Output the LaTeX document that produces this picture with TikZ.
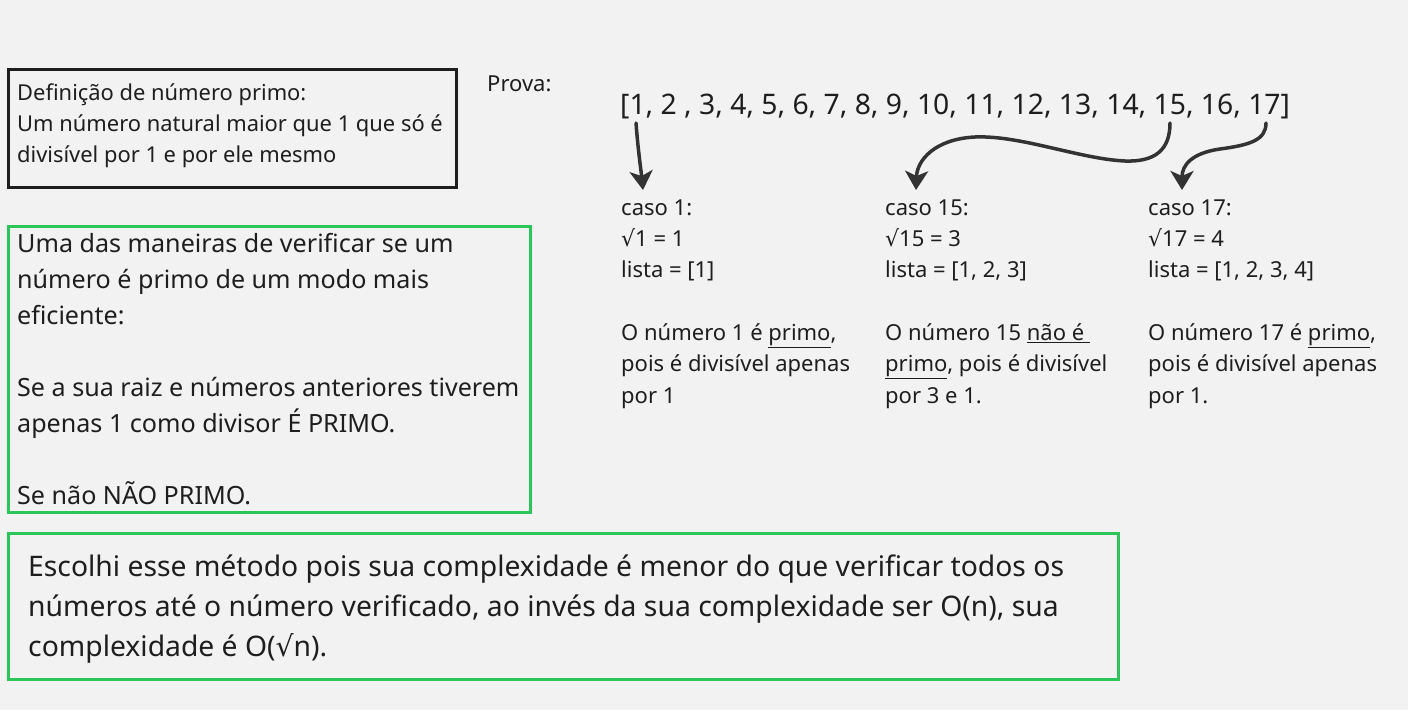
\documentclass[tikz,border=0pt]{standalone}
\usepackage{fontspec}
\setmainfont{Noto Sans}
\newfontfamily\symfont{DejaVu Sans}
\newcommand{\rt}{{\symfont\char"221A}}
\usetikzlibrary{arrows.meta}
\definecolor{bg}{RGB}{242,242,242}
\definecolor{ink}{RGB}{30,30,30}
\definecolor{arr}{RGB}{51,51,51}
\definecolor{grn}{RGB}{43,197,89}
\begin{document}
\begin{tikzpicture}[x=1pt,y=-1pt,
  txt/.style={inner sep=0pt, anchor=north west, align=left, text=ink},
  defbox/.style={draw=ink, line width=3pt},
  greenbox/.style={draw=grn, line width=3pt},
  casefont/.style={font=\fontsize{22}{31.3}\selectfont},
  conn/.style={draw=arr, line width=3.5pt, line cap=round, -{Stealth[length=19pt,width=23pt,inset=5pt]}}]
\fill[bg] (0,0) rectangle (1408,710);
\useasboundingbox (0,0) rectangle (1408,710);

% definition box
\draw[defbox] (8,69) rectangle (456,187);
\node[txt, font=\fontsize{21.9}{31}\selectfont] (def) at (17,78.3)
  {\strut Definição de número primo:\\Um número natural maior que 1 que só é\\divisível por 1 e por ele mesmo};

% Prova
\node[txt, font=\fontsize{22}{27}\selectfont] (prova) at (487,72)
  {\strut Prova:};

% list
\node[txt, font=\fontsize{28.3}{36}\selectfont] (lista) at (620,89)
  {\strut [1, 2 , 3, 4, 5, 6, 7, 8, 9, 10, 11, 12, 13, 14, 15, 16, 17]};

% cases
\node[txt, casefont] (c1) at (621,193.1)
  {\strut caso 1:\\\rt1 = 1\\lista = [1]\\ \\O número 1 é \underline{primo},\\pois é divisível apenas\\por 1};
\node[txt, casefont] (c15) at (885,193.1)
  {\strut caso 15:\\\rt15 = 3\\lista = [1, 2, 3]\\ \\O número 15 \underline{não é\ }\\\underline{primo}, pois é divisível\\por 3 e 1.};
\node[txt, casefont] (c17) at (1148,193.1)
  {\strut caso 17:\\\rt17 = 4\\lista = [1, 2, 3, 4]\\ \\O número 17 é \underline{primo},\\pois é divisível apenas\\por 1.};

% green box 1
\draw[greenbox] (8,226) rectangle (530,512);
\node[txt, font=\fontsize{25.1}{36}\selectfont] (metodo) at (17,226.8)
  {\strut Uma das maneiras de verificar se um\\número é primo de um modo mais\\eficiente:\\ \\Se a sua raiz e números anteriores tiverem\\apenas 1 como divisor É PRIMO.\\ \\Se não NÃO PRIMO.};

% green box 2
\draw[greenbox] (8,533) rectangle (1118,679);
\node[txt, font=\fontsize{28.3}{40}\selectfont] (escolha) at (28,548)
  {\strut Escolhi esse método pois sua complexidade é menor do que verificar todos os\\números até o número verificado, ao invés da sua complexidade ser O(n), sua\\complexidade é O(\rt n).};

% arrows
\coordinate (s1) at (636,123);
\coordinate (e1) at (643,190);
\coordinate (s15) at (1170,123);
\coordinate (e15) at (916,190);
\coordinate (s17) at (1266,123);
\coordinate (e17) at (1182,190);
\draw[conn] (s1) .. controls (638,150) and (641,170) .. (e1);
\draw[conn] (s15) .. controls (1170,150) and (1155,162) .. (1125,161)
  .. controls (1080,159) and (1020,135) .. (975,137)
  .. controls (935,139) and (917,160) .. (e15);
\draw[conn] (s17) .. controls (1266,140) and (1250,145) .. (1220,149)
  .. controls (1192,153) and (1182,165) .. (e17);
\end{tikzpicture}
\end{document}
